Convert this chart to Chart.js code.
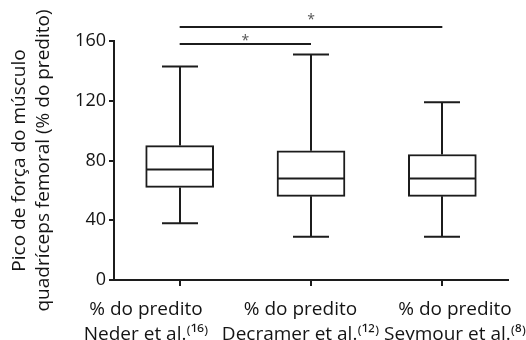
<!DOCTYPE html>
<html><head><meta charset="utf-8">
<script src="https://cdn.jsdelivr.net/npm/chart.js@4"></script>
<style>html,body{margin:0;padding:0;background:#fff}#wrap{width:526px;height:340px}</style>
</head><body><div id="wrap"><canvas id="c" width="526" height="340"></canvas></div>
<script>
const categories = [["% do predito","Neder et al.⁽¹⁶⁾"],["% do predito","Decramer et al.⁽¹²⁾"],["% do predito","Seymour et al.⁽⁸⁾"]];
const whiskerMin = [38, 29, 29];
const q1 = [62, 56, 56];
const median = [74, 68, 68];
const q3 = [90, 86.5, 84];
const whiskerMax = [143, 151, 119];
const yTicks = [0, 40, 80, 120, 160];
const sigPairs = [[0, 1], [0, 2]];
const sigLevels = [158, 169.5];
const sigLabels = ["*", "*"];

const INK = '#1c1c1c';
const TXT = '#141414';
const FONT = '"Open Sans", sans-serif';

const boxPlugin = {
  id: 'boxExtras',
  afterDatasetsDraw(chart, args, opts) {
    const {ctx, scales: {x, y}} = chart;
    ctx.save();
    ctx.strokeStyle = INK;
    ctx.lineWidth = 2;
    const capHalf = opts.capHalf, boxHalf = opts.boxHalf;
    for (let i = 0; i < categories.length; i++) {
      const cx = Math.round(x.getPixelForValue(i));
      const yMax = y.getPixelForValue(whiskerMax[i]);
      const yMin = y.getPixelForValue(whiskerMin[i]);
      const yQ1 = y.getPixelForValue(q1[i]);
      const yQ3 = y.getPixelForValue(q3[i]);
      const yMed = y.getPixelForValue(median[i]);
      ctx.beginPath();
      ctx.moveTo(cx, yQ3); ctx.lineTo(cx, yMax);
      ctx.moveTo(cx - capHalf, yMax); ctx.lineTo(cx + capHalf, yMax);
      ctx.moveTo(cx, yQ1); ctx.lineTo(cx, yMin);
      ctx.moveTo(cx - capHalf, yMin); ctx.lineTo(cx + capHalf, yMin);
      ctx.moveTo(cx - boxHalf, yMed); ctx.lineTo(cx + boxHalf, yMed);
      ctx.stroke();
    }
    const fs = 14;
    ctx.fillStyle = '#555';
    ctx.font = fs + 'px ' + FONT;
    ctx.textAlign = 'center';
    ctx.textBaseline = 'alphabetic';
    sigPairs.forEach((p, k) => {
      const x1 = x.getPixelForValue(p[0]);
      const x2 = x.getPixelForValue(p[1]);
      const yy = Math.round(y.getPixelForValue(sigLevels[k]));
      ctx.beginPath();
      ctx.moveTo(x1, yy); ctx.lineTo(x2, yy);
      ctx.stroke();
      ctx.fillText(sigLabels[k], (x1 + x2) / 2, yy - opts.starGap[k] + 0.56 * fs);
    });
    ctx.restore();
  }
};

new Chart(document.getElementById('c'), {
  type: 'bar',
  data: {
    labels: categories.map((c, i) => i),
    datasets: [{
      xAxisID: 'x',
      data: q1.map((v, i) => [v, q3[i]]),
      backgroundColor: '#ffffff',
      borderColor: INK,
      borderWidth: 2,
      borderSkipped: false,
      barThickness: 68
    }]
  },
  options: {
    responsive: false,
    animation: false,
    layout: {padding: {top: 41, right: 18, left: 7, bottom: 0}},
    plugins: {legend: {display: false}, tooltip: {enabled: false},
      boxExtras: {capHalf: 18, boxHalf: 34, starGap: [7, 11]}},
    scales: {
      x: {
        type: 'category',
        weight: 0,
        grid: {display: true, drawOnChartArea: false, offset: false, tickLength: 6, color: INK, lineWidth: 2},
        border: {display: true, color: INK, width: 2},
        ticks: {display: false}
      },
      x2: {
        type: 'linear',
        axis: 'x',
        position: 'bottom',
        weight: 1,
        offset: false,
        bounds: 'data',
        min: -0.207, max: 2.343,
        afterBuildTicks(axis) { axis.ticks = categories.map((c, i) => ({value: i})); },
        afterFit(axis) { axis.height = 54; axis.paddingLeft = 0; axis.paddingRight = 0; },
        grid: {display: false, drawTicks: false, offset: false},
        border: {display: false},
        ticks: {callback: (v, i) => categories[i], font: {family: FONT, size: 19, lineHeight: 1.32},
          color: TXT, padding: 11, maxRotation: 0, minRotation: 0, autoSkip: false}
      },
      y: {
        min: 0, max: 160,
        afterBuildTicks(axis) { axis.ticks = yTicks.map(v => ({value: v})); },
        afterFit(axis) { axis.width = 107; },
        grid: {display: true, drawOnChartArea: false, tickLength: 5, color: INK, lineWidth: 2},
        border: {display: true, color: INK, width: 2},
        ticks: {font: {family: FONT, size: 18}, color: TXT, padding: 3},
        title: {display: true, text: ['Pico de força do músculo', 'quadríceps femoral (% do predito)'],
          font: {family: FONT, size: 19, lineHeight: 1.3}, color: TXT, padding: {top: 0, bottom: 4}}
      }
    }
  },
  plugins: [boxPlugin]
});
</script></body></html>
